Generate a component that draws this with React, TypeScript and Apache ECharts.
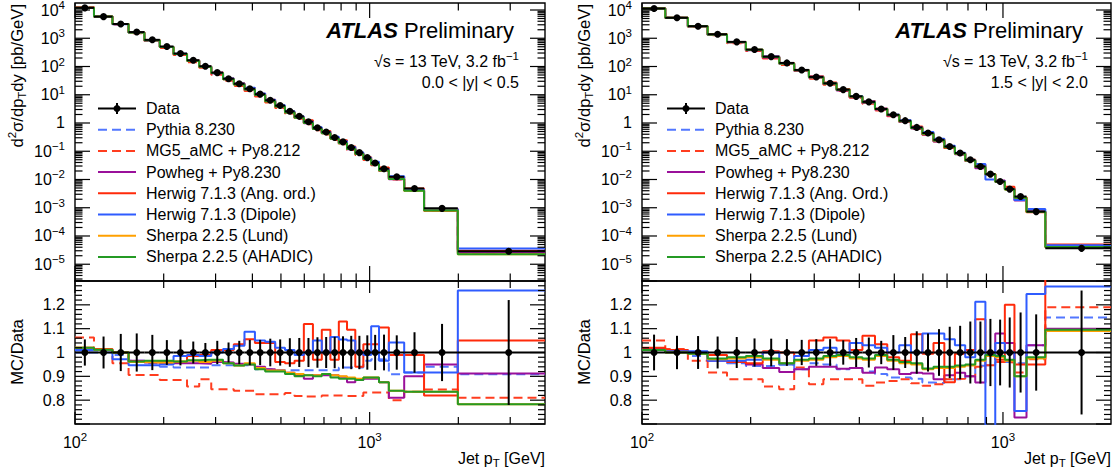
import React, { useEffect, useRef } from "react";
import * as echarts from "echarts";

// ---------------- data ----------------
const EDGES_L = [100, 116, 134, 152, 172, 194, 216, 240, 264, 290, 318, 346, 376, 408, 442, 478, 516, 556, 598, 642, 688, 736, 786, 838, 894, 952, 1012, 1076, 1162, 1310, 1530, 1992, 3937];
const EDGES_R = [100, 116, 134, 152, 172, 194, 216, 240, 264, 290, 318, 346, 376, 408, 442, 478, 516, 556, 598, 642, 688, 736, 786, 838, 894, 952, 1012, 1076, 1162, 1310, 1992];

const DATA_L = [11900, 5820, 3190, 1655, 880, 512, 288, 166, 102, 60.6, 37, 24.5, 16.3, 10.5, 6.4, 4.14, 2.59, 1.72, 1.11, 0.68, 0.477, 0.307, 0.215, 0.135, 0.0895, 0.0593, 0.0384, 0.024, 0.0125, 0.00482, 0.00095, 0.0000287];
const DATA_R = [11300, 5290, 2670, 1387, 745, 398, 224, 134, 75.7, 42.8, 25.4, 15.2, 8.77, 5.6, 3.14, 1.97, 1.21, 0.698, 0.442, 0.256, 0.148, 0.0863, 0.05, 0.0289, 0.0155, 0.0085, 0.00457, 0.0025, 0.00073, 0.000037];

const ERR_L = [0.055, 0.067, 0.078, 0.08, 0.074, 0.052, 0.054, 0.046, 0.04, 0.049, 0.042, 0.049, 0.053, 0.053, 0.058, 0.055, 0.06, 0.061, 0.061, 0.064, 0.065, 0.066, 0.068, 0.07, 0.07, 0.072, 0.074, 0.075, 0.072, 0.085, 0.12, 0.22];
const ERR_R = [0.075, 0.07, 0.069, 0.067, 0.065, 0.059, 0.058, 0.056, 0.053, 0.056, 0.056, 0.051, 0.061, 0.063, 0.049, 0.073, 0.065, 0.089, 0.08, 0.098, 0.108, 0.112, 0.13, 0.13, 0.141, 0.138, 0.147, 0.168, 0.16, 0.26];

// MC / Data ratios, |y| < 0.5
const PYTHIA_L = [1.0, 1.0, 0.99, 0.965, 0.955, 0.94, 0.937, 0.937, 0.937, 0.947, 0.947, 0.947, 0.947, 0.93, 0.93, 0.926, 0.926, 0.926, 0.926, 0.926, 0.926, 0.926, 0.937, 0.937, 0.937, 0.965, 0.972, 0.97, 0.909, 0.916, 0.94, 0.909];
const MG5_L = [1.063, 1.01, 0.955, 0.906, 0.906, 0.885, 0.885, 0.857, 0.888, 0.846, 0.846, 0.84, 0.84, 0.825, 0.825, 0.825, 0.83, 0.818, 0.815, 0.815, 0.82, 0.82, 0.818, 0.818, 0.818, 0.832, 0.832, 0.832, 0.8, 0.835, 0.845, 0.81];
const POWHEG_L = [1.015, 1.012, 1.0, 0.965, 0.958, 0.955, 0.955, 0.955, 0.953, 0.96, 0.958, 0.953, 0.95, 0.94, 0.93, 0.925, 0.915, 0.905, 0.89, 0.905, 0.905, 0.905, 0.898, 0.875, 0.885, 0.89, 0.89, 0.875, 0.81, 0.9, 0.95, 0.912];
const HERWIG_ANG_L = [1.02, 1.015, 1.0, 0.962, 0.962, 0.96, 0.962, 0.985, 0.99, 1.01, 1.01, 1.035, 1.056, 1.04, 1.04, 0.96, 0.955, 0.965, 1.12, 0.97, 1.095, 0.97, 1.13, 1.095, 0.94, 1.035, 1.035, 1.105, 0.99, 0.99, 0.82, 1.05];
const HERWIG_DIP_L = [1.01, 1.01, 0.972, 0.947, 0.947, 0.95, 0.985, 0.99, 0.985, 1.0, 1.015, 1.028, 1.087, 1.05, 1.045, 1.02, 1.01, 0.99, 1.0, 1.05, 1.0, 1.065, 1.055, 1.05, 1.0, 0.99, 1.11, 0.965, 1.042, 0.916, 0.916, 1.26];
const SHERPA_LUND_L = [1.02, 1.012, 1.0, 0.96, 0.958, 0.958, 0.962, 0.965, 0.96, 0.965, 0.955, 0.945, 0.955, 0.935, 0.925, 0.925, 0.915, 0.91, 0.905, 0.905, 0.91, 0.905, 0.9, 0.895, 0.89, 0.895, 0.895, 0.875, 0.84, 0.835, 0.835, 0.783];
const SHERPA_AHADIC_L = [1.02, 1.012, 1.0, 0.962, 0.965, 0.965, 0.962, 0.968, 0.97, 0.97, 0.955, 0.945, 0.95, 0.93, 0.92, 0.92, 0.91, 0.9, 0.905, 0.9, 0.91, 0.895, 0.89, 0.89, 0.885, 0.895, 0.895, 0.875, 0.84, 0.835, 0.835, 0.783];

// MC / Data ratios, 1.5 < |y| < 2.0
const PYTHIA_R = [1.01, 1.005, 0.985, 0.97, 0.955, 0.943, 0.943, 0.95, 0.93, 0.955, 0.95, 0.93, 0.935, 0.92, 0.91, 0.895, 0.895, 0.89, 0.874, 0.872, 0.888, 0.888, 0.9, 0.944, 0.947, 0.96, 0.96, 0.955, 1.03, 1.147];
const MG5_R = [1.05, 1.015, 0.965, 0.916, 0.888, 0.888, 0.857, 0.846, 0.937, 0.867, 0.888, 0.888, 0.888, 0.86, 0.874, 0.88, 0.888, 0.871, 0.86, 0.867, 0.888, 0.89, 0.9, 0.94, 0.947, 0.96, 0.958, 0.916, 0.972, 1.19];
const POWHEG_R = [1.015, 1.01, 1.0, 0.965, 0.96, 0.95, 0.935, 0.918, 0.93, 0.94, 0.94, 0.932, 0.935, 0.915, 0.937, 0.93, 0.91, 0.915, 0.912, 0.888, 0.905, 0.915, 0.9, 0.874, 0.986, 1.08, 1.04, 0.727, 1.03, 1.1];
const HERWIG_ANG_R = [1.02, 1.01, 1.0, 0.99, 0.96, 0.955, 1.005, 1.0, 0.985, 1.05, 1.063, 1.05, 1.01, 1.07, 1.035, 0.98, 0.965, 1.077, 0.995, 1.04, 0.875, 0.995, 1.01, 1.14, 1.0, 0.97, 1.2, 0.95, 0.95, 1.35];
const HERWIG_DIP_R = [1.01, 1.005, 1.005, 0.965, 0.965, 0.97, 1.0, 0.95, 0.985, 1.01, 1.02, 0.99, 1.04, 1.03, 1.02, 1.0, 1.03, 1.0, 1.08, 1.08, 1.056, 1.03, 0.98, 1.213, 0.65, 1.04, 1.0, 0.755, 1.245, 1.277];
const SHERPA_LUND_R = [1.01, 1.0, 0.995, 0.972, 0.975, 0.98, 0.97, 0.955, 0.965, 0.97, 0.98, 0.985, 0.975, 0.97, 0.985, 0.965, 0.955, 0.95, 0.93, 0.935, 0.935, 0.94, 0.945, 0.965, 0.985, 0.98, 0.965, 0.9, 0.975, 1.09];
const SHERPA_AHADIC_R = [1.01, 1.0, 0.995, 0.975, 0.98, 0.985, 0.975, 0.955, 0.97, 0.975, 0.985, 0.99, 0.98, 0.975, 0.99, 0.97, 0.96, 0.955, 0.933, 0.94, 0.94, 0.945, 0.95, 0.97, 0.99, 0.985, 0.97, 0.9, 0.98, 1.095];

const MC_NAMES_L = ["Pythia 8.230", "MG5_aMC + Py8.212", "Powheg + Py8.230", "Herwig 7.1.3 (Ang. ord.)", "Herwig 7.1.3 (Dipole)", "Sherpa 2.2.5 (Lund)", "Sherpa 2.2.5 (AHADIC)"];
const MC_NAMES_R = ["Pythia 8.230", "MG5_aMC + Py8.212", "Powheg + Py8.230", "Herwig 7.1.3 (Ang. Ord.)", "Herwig 7.1.3 (Dipole)", "Sherpa 2.2.5 (Lund)", "Sherpa 2.2.5 (AHADIC)"];
const RAPIDITY_LABELS = ["0.0 < |y| < 0.5", "1.5 < |y| < 2.0"];
const X_MAJOR_TICKS = [100, 1000];
const X_MINOR_MULTS = [2, 3, 4, 5, 6, 7, 8, 9];
const LOG_Y_EXPONENTS = [4, 3, 2, 1, 0, -1, -2, -3, -4, -5];
const RATIO_TICK_LABELS = [0.8, 0.9, 1, 1.1, 1.2];

// ---------------- styles ----------------
const FONT = '"Liberation Sans", Arial, Helvetica, sans-serif';
const MC_COLORS = ["#5277ff", "#ff3d1f", "#9a109a", "#ff2a0a", "#2f5cff", "#ffa000", "#249a24"];
const MC_DASH: (number[] | null)[] = [[9, 5], [9, 5], null, null, null, null, null];

const RICH: any = {
  b: { fontSize: 16, fontFamily: FONT, lineHeight: 22, fill: "#000" },
  t: { fontSize: 16.6, fontFamily: FONT, lineHeight: 22, fill: "#000" },
  s: { fontSize: 11.5, fontFamily: FONT, lineHeight: 12, verticalAlign: "top", fill: "#000" },
  u: { fontSize: 11.5, fontFamily: FONT, lineHeight: 12, verticalAlign: "bottom", fill: "#000" },
  a: { fontSize: 22, fontFamily: FONT, fontWeight: "bold", fontStyle: "italic", lineHeight: 26, fill: "#000" },
  p: { fontSize: 22, fontFamily: FONT, lineHeight: 26, fill: "#000" },
};

const TOP = 3;
const MID = 281;
const BOT = 424;
const Y_MIN = 2.55e-6;
const Y_MAX = 1.77e4;

const PANELS = [
  {
    edges: EDGES_L, data: DATA_L, err: ERR_L, names: MC_NAMES_L, rap: RAPIDITY_LABELS[0],
    ratios: [PYTHIA_L, MG5_L, POWHEG_L, HERWIG_ANG_L, HERWIG_DIP_L, SHERPA_LUND_L, SHERPA_AHADIC_L],
    left: 75, width: 470, legendX: 98, textRight: 519, atlasRight: 514, titleX: 17,
  },
  {
    edges: EDGES_R, data: DATA_R, err: ERR_R, names: MC_NAMES_R, rap: RAPIDITY_LABELS[1],
    ratios: [PYTHIA_R, MG5_R, POWHEG_R, HERWIG_ANG_R, HERWIG_DIP_R, SHERPA_LUND_R, SHERPA_AHADIC_R],
    left: 642, width: 469, legendX: 667, textRight: 1088, atlasRight: 1083, titleX: 584,
  },
];

function expLabel(n: number) {
  if (n === 0) return "{b|1}";
  return "{b|10}{s|" + (n < 0 ? "\u2212" + -n : String(n)) + "}";
}

function histPoints(edges: number[], vals: number[]) {
  const pts = vals.map((v, i) => [edges[i], v]);
  pts.push([edges[edges.length - 1], vals[vals.length - 1]]);
  return pts;
}

type Tick = { v: number; major: boolean; label?: string };

function tickSeries(gridIdx: number, dim: "x" | "y", items: Tick[], majorLen: number, minorLen: number, refOther: number) {
  return {
    type: "custom",
    xAxisIndex: gridIdx,
    yAxisIndex: gridIdx,
    silent: true,
    clip: false,
    z: 20,
    encode: { x: 0, y: 1 },
    data: items.map((t) => (dim === "x" ? [t.v, refOther] : [refOther, t.v])),
    renderItem: (params: any, api: any) => {
      const cs = params.coordSys;
      const t = items[params.dataIndex];
      const pt = api.coord([api.value(0), api.value(1)]);
      const len = t.major ? majorLen : minorLen;
      const st = { stroke: "#000", lineWidth: 1.2 };
      const ch: any[] = [];
      if (dim === "x") {
        const x = pt[0];
        const yb = cs.y + cs.height;
        const yt = cs.y;
        ch.push({ type: "line", shape: { x1: x, y1: yb, x2: x, y2: yb - len }, style: st });
        ch.push({ type: "line", shape: { x1: x, y1: yt, x2: x, y2: yt + len }, style: st });
        if (t.label) {
          ch.push({ type: "text", x: x, y: yb + 18, style: { text: t.label, rich: RICH, align: "center", verticalAlign: "middle" } });
        }
      } else {
        const y = pt[1];
        const xl = cs.x;
        const xr = cs.x + cs.width;
        ch.push({ type: "line", shape: { x1: xl, y1: y, x2: xl + len, y2: y }, style: st });
        ch.push({ type: "line", shape: { x1: xr, y1: y, x2: xr - len, y2: y }, style: st });
        if (t.label) {
          ch.push({ type: "text", x: xl - 10, y: y, style: { text: t.label, rich: RICH, align: "right", verticalAlign: "middle" } });
        }
      }
      return { type: "group", children: ch };
    },
  };
}

function dataSeries(gridIdx: number, items: number[][]) {
  return {
    type: "custom",
    xAxisIndex: gridIdx,
    yAxisIndex: gridIdx,
    silent: true,
    z: 8,
    encode: { x: [0, 1, 2], y: [3, 4, 5] },
    data: items,
    renderItem: (params: any, api: any) => {
      const lo = api.value(0), hi = api.value(1), c = api.value(2);
      const v = api.value(3), vl = api.value(4), vh = api.value(5);
      const a = api.coord([lo, v]);
      const b = api.coord([hi, v]);
      const m = api.coord([c, v]);
      const e1 = api.coord([c, vl]);
      const e2 = api.coord([c, vh]);
      const st = { stroke: "#000", lineWidth: 2 };
      return {
        type: "group",
        children: [
          { type: "line", shape: { x1: a[0], y1: a[1], x2: b[0], y2: b[1] }, style: st },
          { type: "line", shape: { x1: m[0], y1: e1[1], x2: m[0], y2: e2[1] }, style: st },
          { type: "circle", shape: { cx: m[0], cy: m[1], r: 3.5 }, style: { fill: "#000" } },
        ],
      };
    },
  };
}

function buildOption() {
  const grids: any[] = [];
  const xAxes: any[] = [];
  const yAxes: any[] = [];
  const series: any[] = [];
  const graphics: any[] = [];

  PANELS.forEach((P, p) => {
    const gU = 2 * p;
    const gL = 2 * p + 1;
    const xMax = P.edges[P.edges.length - 1];
    grids.push({ left: P.left, top: TOP, width: P.width, height: MID - TOP, show: true, borderColor: "#000", borderWidth: 1.4, backgroundColor: "transparent" });
    grids.push({ left: P.left, top: MID, width: P.width, height: BOT - MID, show: true, borderColor: "#000", borderWidth: 1.4, backgroundColor: "transparent" });
    [gU, gL].forEach((g) => {
      xAxes.push({ type: "log", logBase: 10, min: 100, max: xMax, gridIndex: g, show: false, splitLine: { show: false } });
    });
    yAxes.push({ type: "log", logBase: 10, min: Y_MIN, max: Y_MAX, gridIndex: gU, show: false, splitLine: { show: false } });
    yAxes.push({ type: "value", min: 0.7, max: 1.3, gridIndex: gL, show: false, splitLine: { show: false } });

    // MC histograms
    P.ratios.forEach((r, k) => {
      const ls = { color: MC_COLORS[k], width: 2, type: MC_DASH[k] ? MC_DASH[k] : "solid" };
      series.push({
        type: "line", name: P.names[k], xAxisIndex: gU, yAxisIndex: gU, step: "end", symbol: "none", showSymbol: false,
        silent: true, z: 3, lineStyle: ls, data: histPoints(P.edges, P.data.map((d, i) => d * r[i])),
      });
      series.push({
        type: "line", name: P.names[k], xAxisIndex: gL, yAxisIndex: gL, step: "end", symbol: "none", showSymbol: false,
        silent: true, z: 3, lineStyle: ls, data: histPoints(P.edges, r),
      });
    });

    // Data
    const upperItems = P.data.map((d, i) => {
      const lo = P.edges[i], hi = P.edges[i + 1];
      return [lo, hi, (lo + hi) / 2, d, d * (1 - P.err[i]), d * (1 + P.err[i])];
    });
    const lowerItems = P.data.map((d, i) => {
      const lo = P.edges[i], hi = P.edges[i + 1];
      return [lo, hi, (lo + hi) / 2, 1, 1 - P.err[i], 1 + P.err[i]];
    });
    series.push(dataSeries(gU, upperItems));
    series.push(dataSeries(gL, lowerItems));

    // ticks
    const xTicks: Tick[] = [];
    const xTicksLab: Tick[] = [];
    X_MAJOR_TICKS.forEach((dec) => {
      const n = Math.round(Math.log10(dec));
      xTicks.push({ v: dec, major: true });
      xTicksLab.push({ v: dec, major: true, label: expLabel(n) });
      X_MINOR_MULTS.forEach((m) => {
        const v = m * dec;
        if (v < xMax) {
          xTicks.push({ v, major: false });
          xTicksLab.push({ v, major: false });
        }
      });
    });
    series.push(tickSeries(gU, "x", xTicks, 15, 7.5, 1));
    series.push(tickSeries(gL, "x", xTicksLab, 12, 7, 1));

    const yTicks: Tick[] = [];
    for (let n = -6; n <= 4; n++) {
      const dec = Math.pow(10, n);
      if (dec >= Y_MIN && dec <= Y_MAX) {
        yTicks.push({ v: dec, major: true, label: LOG_Y_EXPONENTS.indexOf(n) >= 0 ? expLabel(n) : undefined });
      }
      X_MINOR_MULTS.forEach((m) => {
        const v = m * dec;
        if (v >= Y_MIN && v <= Y_MAX) yTicks.push({ v, major: false });
      });
    }
    series.push(tickSeries(gU, "y", yTicks, 15, 7.5, 200));

    const rTicks: Tick[] = [];
    for (let k = 35; k <= 65; k++) {
      const v = k / 50;
      const major = k % 5 === 0;
      let label: string | undefined;
      if (major) {
        const lv = RATIO_TICK_LABELS.find((q) => Math.abs(q - v) < 1e-6);
        if (lv !== undefined) label = "{b|" + (lv === 1 ? "1" : lv.toFixed(1)) + "}";
      }
      rTicks.push({ v, major, label });
    }
    series.push(tickSeries(gL, "y", rTicks, 15, 7, 200));

    // texts
    const right = P.left + P.width;
    graphics.push({ type: "text", x: P.titleX, y: 4, rotation: Math.PI / 2, style: { text: "{t|d}{s|2}{t|\u03c3/dp}{u|T}{t|dy [pb/GeV]}", rich: RICH, align: "right", verticalAlign: "middle" } });
    graphics.push({ type: "text", x: P.titleX, y: 352, rotation: Math.PI / 2, style: { text: "{t|MC/Data}", rich: RICH, align: "center", verticalAlign: "middle" } });
    graphics.push({ type: "text", x: right, y: 458, style: { text: "{b|Jet p}{u|T}{b| [GeV]}", rich: RICH, align: "right", verticalAlign: "middle" } });
    graphics.push({ type: "text", x: P.atlasRight, y: 30, style: { text: "{a|ATLAS}{p| Preliminary}", rich: RICH, align: "right", verticalAlign: "middle" } });
    graphics.push({ type: "text", x: P.textRight, y: 61, style: { text: "{b|\u221as = 13 TeV, 3.2 fb}{s|\u22121}", rich: RICH, align: "right", verticalAlign: "middle" } });
    graphics.push({ type: "text", x: P.textRight, y: 82, style: { text: "{b|" + P.rap + "}", rich: RICH, align: "right", verticalAlign: "middle" } });

    // legend
    const lx0 = P.legendX;
    const lx1 = P.legendX + 38;
    const rowY = (i: number) => 108.5 + 21.2 * i;
    const y0 = rowY(0);
    const mx = (lx0 + lx1) / 2;
    graphics.push({ type: "line", shape: { x1: lx0, y1: y0, x2: lx1, y2: y0 }, style: { stroke: "#000", lineWidth: 2 } });
    graphics.push({ type: "line", shape: { x1: mx, y1: y0 - 5.5, x2: mx, y2: y0 + 5.5 }, style: { stroke: "#000", lineWidth: 2 } });
    graphics.push({ type: "circle", shape: { cx: mx, cy: y0, r: 3.5 }, style: { fill: "#000" } });
    graphics.push({ type: "text", x: lx1 + 10, y: y0, style: { text: "{b|Data}", rich: RICH, align: "left", verticalAlign: "middle" } });
    P.names.forEach((nm, k) => {
      const y = rowY(k + 1);
      graphics.push({ type: "line", shape: { x1: lx0, y1: y, x2: lx1, y2: y }, style: { stroke: MC_COLORS[k], lineWidth: 2, lineDash: MC_DASH[k] || undefined } });
      graphics.push({ type: "text", x: lx1 + 10, y: y, style: { text: "{b|" + nm + "}", rich: RICH, align: "left", verticalAlign: "middle" } });
    });
  });

  return {
    animation: false,
    backgroundColor: "#fff",
    textStyle: { fontFamily: FONT },
    grid: grids,
    xAxis: xAxes,
    yAxis: yAxes,
    series,
    graphic: graphics,
  };
}

export default function App() {
  const ref = useRef<HTMLDivElement>(null);
  useEffect(() => {
    if (!ref.current) return;
    const chart = echarts.init(ref.current, null, { renderer: "svg" });
    chart.setOption(buildOption() as any);
    return () => chart.dispose();
  }, []);
  return <div ref={ref} style={{ position: "absolute", left: 0, top: 0, width: 1116, height: 473, background: "#fff" }} />;
}
